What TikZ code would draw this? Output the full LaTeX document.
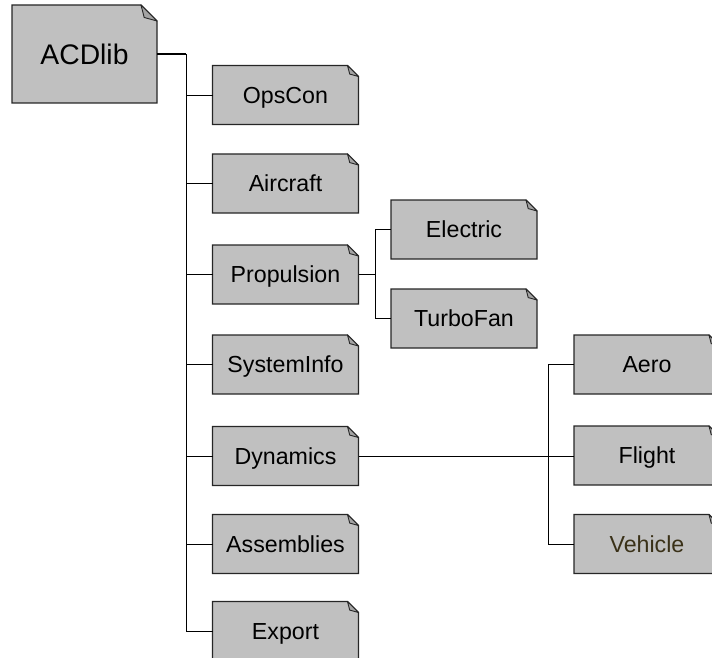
\documentclass[tikz,border=0pt]{standalone}
\usepackage{fontspec}
\setmainfont{Liberation Sans}
\usetikzlibrary{backgrounds}
\definecolor{boxfill}{HTML}{C0C0C0}
\definecolor{foldfill}{HTML}{A4A4A4}
\definecolor{vehtext}{HTML}{3A3118}
\tikzset{
  pkg/.style={minimum width=146pt, minimum height=59pt, inner sep=0pt, outer sep=0pt,
    text height=16.7pt, text depth=0pt,
    font=\fontsize{23.2}{26}\selectfont},
  rootpkg/.style={minimum width=145pt, minimum height=98pt, inner sep=0pt, outer sep=0pt,
    text height=20.3pt, text depth=0pt,
    font=\fontsize{28.3}{32}\selectfont},
  link/.style={draw=black, line width=0.9pt},
  rootlink/.style={draw=black, line width=1.8pt},
  boxline/.style={draw=black!85, line width=1.1pt, fill=boxfill, line join=miter},
  foldline/.style={draw=black!85, line width=0.9pt, fill=foldfill, line join=round},
}
\newcommand{\dogear}[2]{%
  \draw[boxline] (#1.south west) -- (#1.north west) -- ([xshift=-#2pt]#1.north east)
    -- ([yshift=-#2pt]#1.north east) -- (#1.south east) -- cycle;
  \draw[foldline] ([xshift=-#2pt]#1.north east) -- ([xshift=-0.8*#2pt,yshift=-0.78*#2pt]#1.north east)
    -- ([yshift=-#2pt]#1.north east) -- cycle;
}
\begin{document}
\begin{tikzpicture}[x=1pt,y=-1pt]
\useasboundingbox (0,0) rectangle (712,658);
\clip (0,0) rectangle (712,658);
% nodes
\node[rootpkg] (acd) at (84.5,54) {ACDlib};
\node[pkg] (ops) at (285.5,95) {OpsCon};
\node[pkg] (air) at (285.5,183.5) {Aircraft};
\node[pkg] (prop) at (285.5,274.5) {Propulsion};
\node[pkg] (sys) at (285.5,364.5) {SystemInfo};
\node[pkg] (dyn) at (285.5,456) {Dynamics};
\node[pkg] (asm) at (285.5,544) {Assemblies};
\node[pkg] (exp) at (285.5,631) {Export};
\node[pkg] (ele) at (464,229.5) {Electric};
\node[pkg] (tf) at (464,318.5) {TurboFan};
\node[pkg] (aero) at (647,364.5) {Aero};
\node[pkg] (fl) at (647,455.5) {Flight};
\node[pkg, text=vehtext] (veh) at (647,544) {Vehicle};
% bodies
\begin{scope}[on background layer]
\dogear{acd}{16}
\foreach \n in {ops,air,prop,sys,dyn,asm,exp,ele,tf,aero,fl,veh}{\dogear{\n}{11}}
\end{scope}
% connectors
\coordinate (t1) at (186,0);
\coordinate (t2) at (375,0);
\coordinate (t3) at (548,0);
\draw[rootlink] (acd.east) -- (acd.east -| t1);
\draw[link] (acd.east -| t1) -- (t1 |- exp.west);
\foreach \n in {ops,air,prop,sys,dyn,asm,exp}{\draw[link] (t1 |- \n.west) -- (\n.west);}
\draw[link] (prop.east) -- (prop.east -| t2);
\draw[link] (t2 |- ele.west) -- (t2 |- tf.west);
\draw[link] (t2 |- ele.west) -- (ele.west);
\draw[link] (t2 |- tf.west) -- (tf.west);
\draw[link] (dyn.east) -- (dyn.east -| fl.west);
\draw[link] (t3 |- aero.west) -- (t3 |- veh.west);
\draw[link] (t3 |- aero.west) -- (aero.west);
\draw[link] (t3 |- veh.west) -- (veh.west);
\end{tikzpicture}
\end{document}
